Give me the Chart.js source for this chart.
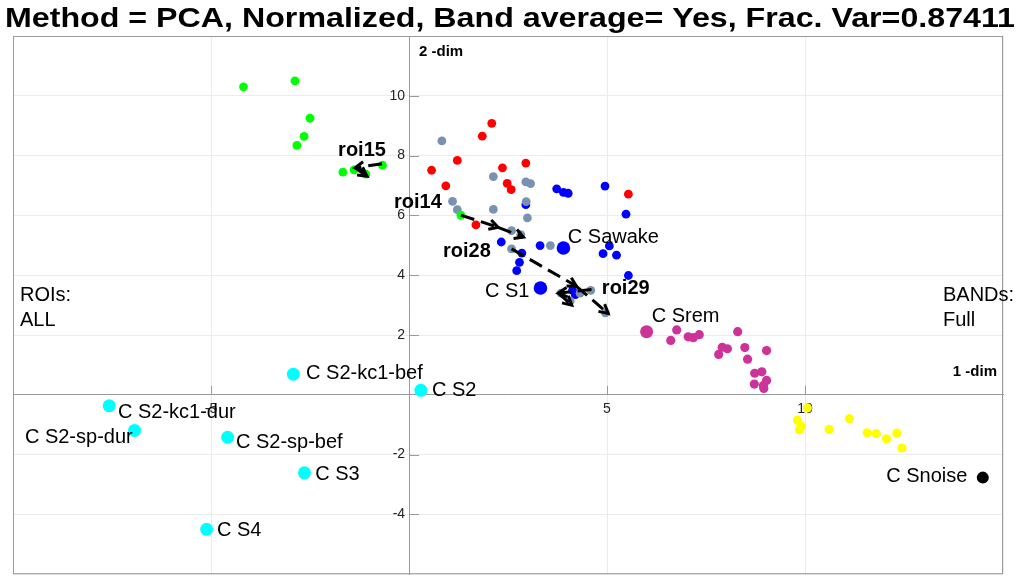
<!DOCTYPE html>
<html><head><meta charset="utf-8">
<script src="https://cdn.jsdelivr.net/npm/chart.js@4.4.0/dist/chart.umd.min.js"></script>
<style>html,body{margin:0;padding:0;background:#fff;overflow:hidden}</style>
</head><body>
<canvas id="c" width="1021" height="581"></canvas>
<script>
const titleText = 'Method = PCA, Normalized, Band average= Yes, Frac. Var=0.87411';
const xAxisName = '1 -dim';
const yAxisName = '2 -dim';
const xTickLabels = [-5, 5, 10];
const yTickLabels = [-4, -2, 2, 4, 6, 8, 10];
const leftNote = ['ROIs:', 'ALL'];
const rightNote = ['BANDs:', 'Full'];

const greenX = [-4.18, -2.88, -2.50, -2.65, -2.83, -1.67, -1.39, -1.09, -0.67, 1.31];
const greenY = [10.30, 10.50, 9.25, 8.64, 8.34, 7.45, 7.52, 7.38, 7.68, 6.01];
const redX = [2.09, 1.85, 1.22, 0.57, 0.93, 2.36, 2.95, 2.48, 2.58, 1.69, 5.54];
const redY = [9.08, 8.65, 7.84, 7.51, 6.99, 7.59, 7.75, 7.07, 6.86, 5.68, 6.71];
const grayX = [0.83, 2.13, 2.95, 3.07, 1.10, 1.22, 2.13, 2.96, 2.99, 2.59, 2.82, 3.57, 2.59, 3.84, 4.07, 4.32, 4.59, 4.96];
const grayY = [8.49, 7.30, 7.12, 7.06, 6.47, 6.19, 6.20, 6.46, 5.92, 5.49, 5.36, 4.99, 4.88, 3.40, 3.13, 3.40, 3.49, 2.74];
const blueX = [3.73, 3.90, 4.02, 4.95, 5.48, 2.95, 2.33, 3.31, 5.06, 4.90, 5.24, 5.54, 2.85, 2.79, 2.72, 4.13, 4.20];
const blueY = [6.89, 6.77, 6.74, 6.98, 6.04, 6.36, 5.11, 4.99, 4.98, 4.72, 4.67, 3.99, 4.74, 4.43, 4.15, 3.49, 3.35];
const magentaX = [6.76, 6.61, 7.05, 7.18, 7.33, 8.30, 7.91, 8.04, 7.82, 8.48, 8.55, 9.03, 8.73, 8.91, 8.72, 9.03, 8.95, 8.96];
const magentaY = [2.17, 1.82, 1.94, 1.91, 2.01, 2.11, 1.59, 1.54, 1.35, 1.58, 1.19, 1.48, 0.72, 0.77, 0.36, 0.48, 0.31, 0.21];
const yellowX = [10.06, 9.81, 9.91, 9.86, 10.61, 11.12, 11.57, 11.80, 12.06, 12.32, 12.45];
const yellowY = [-0.44, -0.85, -1.05, -1.17, -1.16, -0.80, -1.27, -1.30, -1.47, -1.28, -1.78];

const cyanNames = ['C S2-kc1-bef', 'C S2', 'C S2-kc1-dur', 'C S2-sp-dur', 'C S2-sp-bef', 'C S3', 'C S4'];
const cyanX = [-2.92, 0.30, -7.57, -6.93, -4.58, -2.64, -5.11];
const cyanY = [0.69, 0.15, -0.37, -1.19, -1.42, -2.61, -4.50];
const cyanLabelX = [-2.60, 0.58, -7.35, -9.70, -4.37, -2.37, -4.85];
const cyanLabelY = [0.72, 0.16, -0.58, -1.44, -1.61, -2.67, -4.54];

const otherNames = ['C Sawake', 'C S1', 'C Srem', 'C Snoise'];
const otherX = [3.90, 3.32, 6.00, 14.49];
const otherY = [4.91, 3.57, 2.11, -2.77];
const otherLabelX = [4.01, 1.92, 6.13, 12.05];
const otherLabelY = [5.27, 3.46, 2.61, -2.72];

const roiNames = ['roi15', 'roi14', 'roi28', 'roi29'];
const roiLabelX = [-1.79, -0.38, 0.86, 4.87];
const roiLabelY = [8.18, 6.44, 4.79, 3.57];
const arrowX0 = [-0.68, -1.36, 1.31, 2.25, 2.59, 4.23, 4.61, 3.77];
const arrowY0 = [7.73, 7.59, 6.01, 5.60, 4.88, 3.63, 3.52, 3.40];
const arrowX1 = [-1.36, -1.06, 2.25, 2.89, 4.23, 5.03, 3.77, 4.11];
const arrowY1 = [7.59, 7.31, 5.60, 5.27, 3.63, 2.72, 3.40, 3.00];

const FONT = '"Liberation Sans", Arial, Helvetica, sans-serif';
const pts = (xs, ys) => xs.map((v, i) => ({x: v, y: ys[i]}));
const mk = (label, xs, ys, color, r) => ({
  label, data: pts(xs, ys), backgroundColor: color, borderColor: color,
  borderWidth: 0, pointRadius: r, pointHoverRadius: r
});
const pick = (arr, idx) => idx.map(i => arr[i]);

const datasets = [
  mk('C Snoise', [otherX[3]], [otherY[3]], '#000000', 6),
  mk('C Srem', [otherX[2]], [otherY[2]], '#cc3399', 6.5),
  mk('C Sawake / C S1', pick(otherX, [0, 1]), pick(otherY, [0, 1]), '#0000ff', 6.8),
  mk('cyan', cyanX, cyanY, '#00ffff', 6.5),
  mk('green', greenX, greenY, '#00ff00', 4.4),
  mk('gray', grayX, grayY, '#7a92b2', 4.4),
  mk('blue', blueX, blueY, '#0000ff', 4.4),
  mk('red', redX, redY, '#ff0000', 4.4),
  mk('magenta', magentaX, magentaY, '#cc3399', 4.6),
  mk('yellow', yellowX, yellowY, '#ffff00', 4.6)
];

function arrow(ctx, x0, y0, x1, y1) {
  ctx.save();
  ctx.setLineDash([14, 7]);
  ctx.lineDashOffset = 0;
  ctx.beginPath(); ctx.moveTo(x0, y0); ctx.lineTo(x1, y1); ctx.stroke();
  ctx.setLineDash([]);
  const ang = Math.atan2(y1 - y0, x1 - x0), L = 10, w = 0.5;
  ctx.beginPath();
  ctx.moveTo(x1 - L * Math.cos(ang - w), y1 - L * Math.sin(ang - w));
  ctx.lineTo(x1, y1);
  ctx.lineTo(x1 - L * Math.cos(ang + w), y1 - L * Math.sin(ang + w));
  ctx.stroke();
  ctx.restore();
}

const zeroPad = s => { s.paddingTop = 0; s.paddingBottom = 0; s.paddingLeft = 0; s.paddingRight = 0; };

const overlay = {
  id: 'overlay',
  afterDatasetsDraw(chart) {
    const {ctx, chartArea: a, scales: {x, y}} = chart;
    const x0 = x.getPixelForValue(0), y0 = y.getPixelForValue(0);
    ctx.save();
    ctx.strokeStyle = '#999'; ctx.lineWidth = 1;
    ctx.strokeRect(a.left + 0.5, a.top + 0.5, a.right - a.left - 1, a.bottom - a.top - 1);
    ctx.beginPath();
    xTickLabels.forEach(v => { const p = Math.round(x.getPixelForValue(v)) + 0.5; ctx.moveTo(p, y0); ctx.lineTo(p, y0 - 9); });
    yTickLabels.forEach(v => { const p = Math.round(y.getPixelForValue(v)) + 0.5; ctx.moveTo(x0, p); ctx.lineTo(x0 + 10, p); });
    ctx.stroke();

    ctx.strokeStyle = '#000'; ctx.lineWidth = 3; ctx.lineCap = 'butt'; ctx.lineJoin = 'miter';
    for (let i = 0; i < arrowX0.length; i++) {
      arrow(ctx, x.getPixelForValue(arrowX0[i]), y.getPixelForValue(arrowY0[i]),
                 x.getPixelForValue(arrowX1[i]), y.getPixelForValue(arrowY1[i]));
    }

    ctx.fillStyle = '#000'; ctx.textBaseline = 'middle'; ctx.textAlign = 'left';
    ctx.font = '20px ' + FONT;
    cyanNames.forEach((n, i) => ctx.fillText(n, x.getPixelForValue(cyanLabelX[i]), y.getPixelForValue(cyanLabelY[i])));
    otherNames.forEach((n, i) => ctx.fillText(n, x.getPixelForValue(otherLabelX[i]), y.getPixelForValue(otherLabelY[i])));
    ctx.fillText(leftNote[0], a.left + 7, y0 - 99);
    ctx.fillText(leftNote[1], a.left + 7, y0 - 74);
    ctx.fillText(rightNote[0], a.right - 60, y0 - 99);
    ctx.fillText(rightNote[1], a.right - 60, y0 - 74);
    ctx.font = 'bold 20px ' + FONT;
    roiNames.forEach((n, i) => ctx.fillText(n, x.getPixelForValue(roiLabelX[i]), y.getPixelForValue(roiLabelY[i])));
    ctx.font = 'bold 15px ' + FONT;
    ctx.fillText(yAxisName, x0 + 10, a.top + 16);
    ctx.textAlign = 'right';
    ctx.fillText(xAxisName, a.right - 6, y0 - 23);

    // title, stretched to the reference width
    ctx.font = 'bold 28px ' + FONT;
    ctx.textAlign = 'left'; ctx.textBaseline = 'alphabetic';
    const tw = ctx.measureText(titleText).width;
    const target = 1010;
    ctx.translate(5, 27);
    ctx.scale(target / tw, 1);
    ctx.fillText(titleText, 0, 0);
    ctx.restore();
  }
};

new Chart(document.getElementById('c'), {
  type: 'scatter',
  data: {datasets},
  options: {
    responsive: false, animation: false, devicePixelRatio: 1,
    layout: {padding: {left: 13, right: 18, top: 36, bottom: 0}},
    plugins: {
      legend: {display: false}, tooltip: {enabled: false}, title: {display: false}
    },
    scales: {
      x: {
        type: 'linear', min: -10, max: 15, position: {y: 0},
        afterFit: zeroPad,
        ticks: {stepSize: 5, autoSkip: false, maxRotation: 0, padding: 6, color: '#222',
          font: {family: FONT, size: 14},
          callback: v => xTickLabels.includes(v) ? String(v) : ''},
        grid: {color: '#ebebeb', drawTicks: false},
        border: {display: true, color: '#999'}
      },
      y: {
        type: 'linear', min: -6, max: 12, position: {x: 0},
        afterFit: zeroPad,
        ticks: {stepSize: 2, autoSkip: false, padding: 6, color: '#222',
          font: {family: FONT, size: 14},
          callback: v => yTickLabels.includes(v) ? String(v) + ' ' : ''},
        grid: {color: '#ebebeb', drawTicks: false},
        border: {display: true, color: '#999'}
      }
    }
  },
  plugins: [overlay]
});
</script>
</body></html>
